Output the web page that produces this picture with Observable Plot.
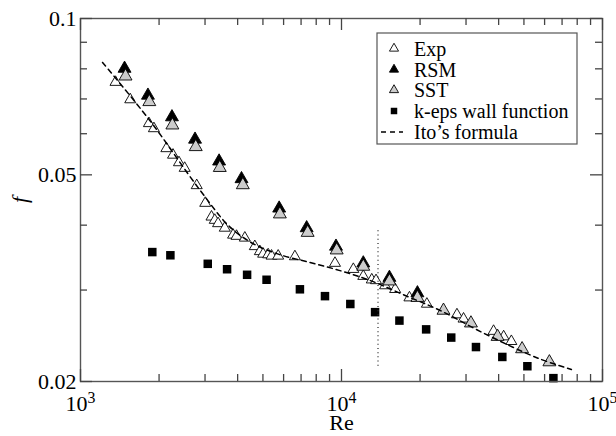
<!DOCTYPE html>
<html>
<head>
<meta charset="utf-8">
<script src="https://cdn.jsdelivr.net/npm/d3@7"></script>
<script src="https://cdn.jsdelivr.net/npm/@observablehq/plot@0.6"></script>
<style>
  html, body { margin: 0; padding: 0; background: white; }
  #chart { width: 616px; height: 436px; }
</style>
</head>
<body>
<div id="chart"></div>
<script>
// ---- data ----
const expRe = [1362, 1551, 1829, 1911, 2133, 2262, 2384, 2507, 2788, 3006, 3176, 3269, 3366, 3571, 3842, 3960, 4262, 4655, 4866, 5009, 5236, 5395, 5720, 6629, 9441, 11100, 12120, 13060, 13560, 14690, 16050, 18210, 21240, 27690, 29350, 38250, 41800, 44750];
const expF  = [0.0754, 0.0698, 0.0628, 0.0614, 0.0562, 0.0546, 0.0528, 0.0515, 0.0477, 0.0441, 0.0415, 0.0409, 0.0403, 0.0395, 0.0383, 0.0381, 0.0378, 0.0364, 0.0356, 0.0352, 0.0351, 0.0349, 0.0349, 0.0348, 0.0338, 0.0329, 0.0319, 0.0314, 0.0313, 0.0306, 0.0301, 0.0290, 0.0282, 0.0269, 0.0264, 0.0250, 0.0244, 0.0239];

const rsmRe = [1475, 1813, 2241, 2747, 3396, 4139, 5770, 7353, 9526, 12120, 15260, 19540];
const rsmF  = [0.0801, 0.0711, 0.0646, 0.0585, 0.0531, 0.0491, 0.0431, 0.0395, 0.0364, 0.0338, 0.0317, 0.0296];

const sstRe = [1488, 1835, 2249, 2764, 3417, 4187, 5806, 7418, 9585, 12120, 15260, 19540, 24590, 31330, 39630, 49190, 62590];
const sstF  = [0.0774, 0.0691, 0.0623, 0.0566, 0.0516, 0.0478, 0.0420, 0.0387, 0.0358, 0.0333, 0.0312, 0.0290, 0.0274, 0.0259, 0.0244, 0.0231, 0.0218];

const kepsRe = [1884, 2210, 3073, 3644, 4348, 5163, 6929, 8644, 10810, 13450, 16670, 21100, 26330, 32750, 41320, 51540, 64850];
const kepsF  = [0.0355, 0.0350, 0.0337, 0.0329, 0.0321, 0.0314, 0.0301, 0.0292, 0.0282, 0.0272, 0.0262, 0.0252, 0.0243, 0.0233, 0.0223, 0.0214, 0.0203];

const itoRe = [1215, 1840, 2863, 3733, 4655, 5806, 7570, 9868, 12870, 17220, 23880, 34930, 56300, 76000];
const itoF  = [0.0823, 0.0637, 0.0468, 0.0397, 0.0367, 0.0351, 0.0339, 0.0327, 0.0313, 0.0294, 0.0274, 0.0248, 0.0222, 0.0211];

const critRe = [13800];
const critF  = [0.039, 0.0214];

const xDomain = [1e3, 1e5];
const yDomain = [0.02, 0.1];
const xMajor = [1e3, 1e4, 1e5];
const xTickLabels = ["10^3", "10^4", "10^5"];
const xMinor = [2e3, 3e3, 4e3, 5e3, 6e3, 7e3, 8e3, 9e3, 2e4, 3e4, 4e4, 5e4, 6e4, 7e4, 8e4, 9e4];
const yMajor = [0.02, 0.05, 0.1];
const yTickLabels = ["0.02", "0.05", "0.1"];
const yMinor = [0.03, 0.04, 0.06, 0.07, 0.08, 0.09];

const seriesNames = ["Exp", "RSM", "SST", "k-eps wall function", "Ito\u2019s formula"];

// ---- tables ----
const zip = (xs, ys) => xs.map((x, i) => ({Re: x, f: ys[i]}));
const expData = zip(expRe, expF);
const rsmData = zip(rsmRe, rsmF);
const sstData = zip(sstRe, sstF);
const kepsData = zip(kepsRe, kepsF);
const itoData = zip(itoRe, itoF);

// ---- layout ----
const W = 616, H = 436;
const mL = 80, mR = 14, mT = 18, mB = 55;
const minorLen = 7, majorLen = 12;
const axisColor = "#555";
const tickColor = "#444";
const font = "'Liberation Serif', 'Times New Roman', serif";

// pixel-length inward ticks expressed in data units (same log mapping as the plot)
const px = d3.scaleLog().domain(xDomain).range([mL, W - mR]);
const py = d3.scaleLog().domain(yDomain).range([H - mB, mT]);
const yFromBottom = len => py.invert(H - mB - len);
const yFromTop = len => py.invert(mT + len);
const xFromLeft = len => px.invert(mL + len);
const xFromRight = len => px.invert(W - mR - len);
const tickStyle = {stroke: tickColor, strokeWidth: 1.3};

const chart = Plot.plot({
  width: W,
  height: H,
  marginLeft: mL,
  marginRight: mR,
  marginTop: mT,
  marginBottom: mB,
  style: {fontFamily: font, fontSize: "22px", background: "white", color: "black", overflow: "visible"},
  x: {type: "log", domain: xDomain},
  y: {type: "log", domain: yDomain},
  marks: [
    // tick labels + axis labels
    Plot.axisX(xMajor, {anchor: "bottom", tickSize: 0, tickPadding: 14, tickFormat: (d) => xTickLabels[xMajor.indexOf(d)],
      label: "Re", labelAnchor: "center", labelOffset: 48, labelArrow: "none"}),
    Plot.axisY(yMajor, {anchor: "left", tickSize: 0, tickPadding: 4, tickFormat: (d) => yTickLabels[yMajor.indexOf(d)],
      label: "f", labelAnchor: "center", labelOffset: 69, labelArrow: "none"}),
    // data
    Plot.dot(expData, {x: "Re", y: "f", symbol: "triangle", r: 4.1, fill: "white", stroke: "black", strokeWidth: 0.9}),
    Plot.dot(rsmData, {x: "Re", y: "f", symbol: "triangle", r: 4.8, fill: "black", stroke: "black", strokeWidth: 0.9}),
    Plot.dot(sstData, {x: "Re", y: "f", symbol: "triangle", r: 4.8, fill: "#cccccc", stroke: "black", strokeWidth: 0.9}),
    Plot.dot(kepsData, {x: "Re", y: "f", symbol: "square", r: 4.8, fill: "black", stroke: "none"}),
    Plot.line(itoData, {x: "Re", y: "f", curve: "catmull-rom", stroke: "black", strokeWidth: 1.5, strokeDasharray: "5,4"}),
    Plot.ruleX(critRe, {y1: critF[0], y2: critF[1], stroke: "#333", strokeWidth: 1.3, strokeDasharray: "1,3.2"}),
    Plot.frame({stroke: axisColor, strokeWidth: 1.4, fill: "none"}),
    // inward ticks, bottom / top
    Plot.ruleX(xMinor, {x: d => d, y1: yDomain[0], y2: yFromBottom(minorLen), ...tickStyle}),
    Plot.ruleX(xMajor, {x: d => d, y1: yDomain[0], y2: yFromBottom(majorLen), ...tickStyle}),
    Plot.ruleX(xMinor, {x: d => d, y1: yDomain[1], y2: yFromTop(minorLen), ...tickStyle}),
    Plot.ruleX(xMajor, {x: d => d, y1: yDomain[1], y2: yFromTop(majorLen), ...tickStyle}),
    // inward ticks, left / right
    Plot.ruleY(yMinor, {y: d => d, x1: xDomain[0], x2: xFromLeft(minorLen), ...tickStyle}),
    Plot.ruleY(yMajor, {y: d => d, x1: xDomain[0], x2: xFromLeft(majorLen), ...tickStyle}),
    Plot.ruleY(yMinor, {y: d => d, x1: xDomain[1], x2: xFromRight(minorLen), ...tickStyle}),
    Plot.ruleY(yMajor, {y: d => d, x1: xDomain[1], x2: xFromRight(majorLen), ...tickStyle})
  ]
});

document.getElementById("chart").appendChild(chart);

const svg = d3.select(chart);

// superscript tick labels "10^n"
svg.selectAll('g[aria-label="x-axis tick label"] text').each(function() {
  const t = d3.select(this);
  const [base, e] = t.text().split("^");
  t.text(null);
  t.append("tspan").text(base);
  t.append("tspan").attr("dy", "-0.5em").attr("font-size", "0.72em").text(e);
});

// italic f
svg.selectAll('g[aria-label="y-axis label"] text').attr("font-style", "italic");

// ---- legend (inside the plot, top right) ----
const lg = svg.append("g").attr("font-family", font).attr("font-size", "20px").attr("text-anchor", "start");
lg.append("rect").attr("x", 377).attr("y", 33).attr("width", 200).attr("height", 111)
  .attr("fill", "white").attr("stroke", axisColor).attr("stroke-width", 1.2);
const rowY = [48.5, 69.5, 90, 111, 132];
const symX = 394, textX = 414;
const tri = d3.symbol(d3.symbolTriangle, 36)();
const sq = d3.symbol(d3.symbolSquare, 42)();
const legendStyles = [
  {path: tri, fill: "white", stroke: "black"},
  {path: tri, fill: "black", stroke: "black"},
  {path: tri, fill: "#cccccc", stroke: "black"},
  {path: sq, fill: "black", stroke: "none"},
  null
];
seriesNames.forEach((name, i) => {
  const y = rowY[i];
  const st = legendStyles[i];
  if (st) {
    lg.append("path").attr("d", st.path).attr("transform", `translate(${symX},${y})`)
      .attr("fill", st.fill).attr("stroke", st.stroke).attr("stroke-width", 0.9);
  } else {
    lg.append("line").attr("x1", symX - 13).attr("x2", symX + 9).attr("y1", y).attr("y2", y)
      .attr("stroke", "black").attr("stroke-width", 1.5).attr("stroke-dasharray", "5,4");
  }
  lg.append("text").attr("x", textX).attr("y", y).attr("dy", "0.35em").text(name);
});
</script>
</body>
</html>
